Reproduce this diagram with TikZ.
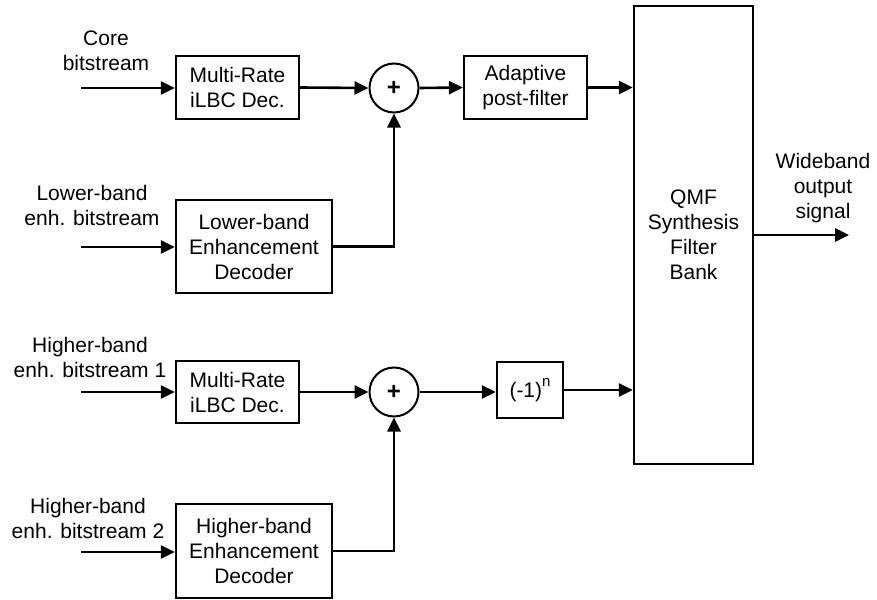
\documentclass[tikz,border=0pt]{standalone}
\usepackage{fontspec}
\setmainfont{Liberation Sans}
\usetikzlibrary{arrows.meta}
\begin{document}
\begin{tikzpicture}[x=1pt,y=-1pt,
  every node/.style={font=\fontsize{21}{25}\selectfont, align=center, inner sep=0pt},
  blk/.style={draw, line width=2.2pt, minimum width=123pt, minimum height=63pt},
  wideblk/.style={draw, line width=2.2pt, minimum width=156pt, minimum height=93pt},
  sumnode/.style={draw, circle, line width=2pt, minimum size=49pt, font=\fontsize{24}{25}\selectfont\bfseries},
  lbl/.style={},
  conn/.style={line width=2.6pt},
  arr/.style={conn, -{Triangle[length=14pt,width=13pt]}}]
\useasboundingbox (0,0) rectangle (877,599);
% blocks
\node[blk] (mr1) at (237.5,87.5) {Multi-Rate\\iLBC Dec.};
\node[sumnode] (sum1) at (394,88) {+};
\node[blk] (apf) at (525.5,87.5) {Adaptive\\post-filter};
\node[draw, line width=2.2pt, minimum width=119pt, minimum height=458pt] (qmf) at (693.5,235) {QMF\\Synthesis\\Filter\\Bank};
\node[wideblk] (lbe) at (254,246.5) {Lower-band\\Enhancement\\Decoder};
\node[blk, minimum height=62pt] (mr2) at (237.5,392) {Multi-Rate\\iLBC Dec.};
\node[sumnode] (sum2) at (394,392) {+};
\node[draw, line width=2.2pt, minimum width=66pt, minimum height=56pt] (neg) at (530,390) {(-1)\raisebox{0.55em}{\fontsize{15}{15}\selectfont n}};
\node[wideblk, minimum height=94pt] (hbe) at (254,551) {Higher-band\\Enhancement\\Decoder};
% input coordinates
\coordinate (in1) at (81,88);
\coordinate (in2) at (81,247);
\coordinate (in3) at (81,392);
\coordinate (in4) at (81,552);
\coordinate (out) at (849,235);
% labels
\node[lbl] (l1) at (106,50.5) {Core\\bitstream};
\node[lbl] (l2) at (92,205.5) {Lower-band\\enh. bitstream};
\node[lbl] (l3) at (90,357.5) {Higher-band\\enh. bitstream 1};
\node[lbl] (l4) at (88,518.5) {Higher-band\\enh. bitstream 2};
\node[lbl] (l5) at (823,188) {Wideband\\output\\signal};
% connectors
\draw[arr] (in1) -- (in1 -| mr1.west);
\draw[arr] (in2) -- (in2 -| lbe.west);
\draw[arr] (in3) -- (in3 -| mr2.west);
\draw[arr] (in4) -- (in4 -| hbe.west);
\draw[arr] (mr1.east) -- (sum1.west);
\draw[arr] (sum1.east) -- (apf.west);
\draw[arr] (apf.east) -- (apf.east -| qmf.west);
\draw[arr] (lbe.east) -| (sum1.south);
\draw[arr] (mr2.east) -- (sum2.west);
\draw[arr] (sum2.east) -- (sum2.east -| neg.west);
\draw[arr] (neg.east) -- (neg.east -| qmf.west);
\draw[arr] (hbe.east) -| (sum2.south);
\draw[arr] (out -| qmf.east) -- (out);
\end{tikzpicture}
\end{document}
